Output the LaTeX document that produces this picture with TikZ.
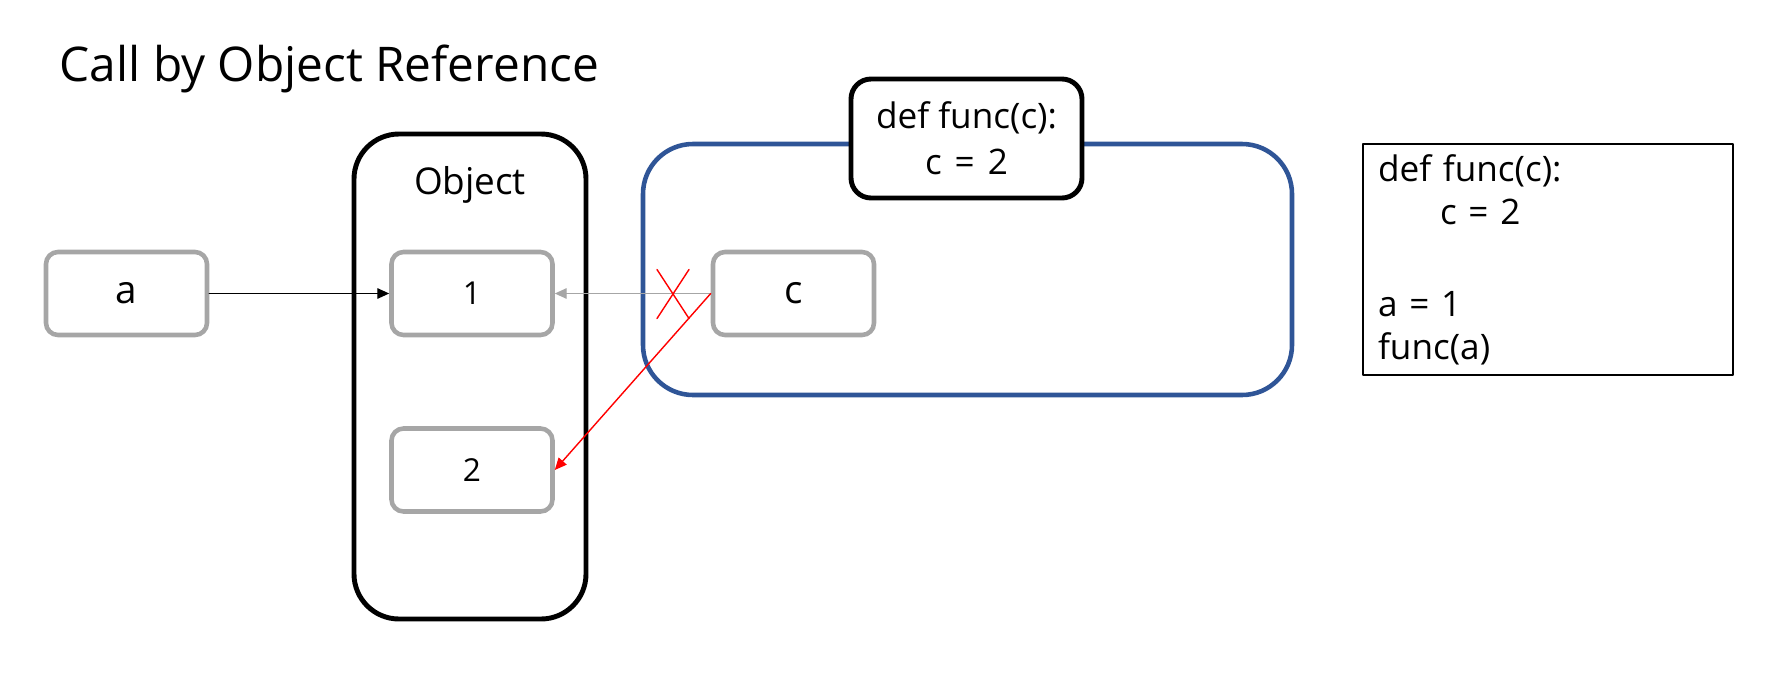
\documentclass[tikz,border=0pt]{standalone}
\usepackage{fontspec}
\setmainfont{Open Sans}
\usepackage{tikz}
\usetikzlibrary{arrows.meta}
\definecolor{sqsqsq}{rgb}{0.6509803921568628,0.6509803921568628,0.6509803921568628}
\definecolor{qqzzcc}{rgb}{0.1843137254901961,0.3333333333333333,0.592156862745098}
\definecolor{ffqqqq}{rgb}{1.0,0.0,0.0}

\begin{document}
\begin{tikzpicture}[line cap=round,line join=round,>={Triangle[length=3.4pt,width=3pt]},x=1.0cm,y=1.0cm,
  cell/.style={draw=sqsqsq,line width=1.3pt,rounded corners=0.12cm,minimum width=1.61cm,minimum height=0.83cm,inner sep=0pt,font=\fontsize{11}{13}\selectfont},
  frame/.style={draw,line width=1.4pt,inner sep=0pt}]
\useasboundingbox (0,0) rectangle (17.87,6.92);
\node[anchor=west,inner sep=0pt,font=\fontsize{13.6}{16}\selectfont] (title) at (0.59,6.23) {Call by Object Reference};
\node[frame,rounded corners=0.45cm,minimum width=2.32cm,minimum height=4.85cm] (obj) at (4.70,3.155) {};
\node[font=\fontsize{10.5}{12}\selectfont] (objlabel) at (4.70,5.07) {Object};
\node[frame,draw=qqzzcc,line width=1.3pt,rounded corners=0.5cm,minimum width=6.49cm,minimum height=2.51cm] (func) at (9.675,4.225) {};
\node[frame,fill=white,rounded corners=0.2cm,minimum width=2.31cm,minimum height=1.19cm,align=center,font=\fontsize{10}{13}\selectfont] (defbox) at (9.665,5.535) {def func(c):\\c\hspace{0.13cm}=\hspace{0.13cm}2};
\node[cell] (a) at (1.265,3.985) {a};
\node[cell,font=\fontsize{9}{11}\selectfont] (one) at (4.72,3.985) {1};
\node[cell,font=\fontsize{9}{11}\selectfont] (two) at (4.72,2.22) {2};
\node[cell] (c) at (7.935,3.985) {c};
\node[draw,line width=0.65pt,inner xsep=0.15cm,inner ysep=0pt,text width=3.4cm,minimum height=2.31cm,align=left,font=\fontsize{10}{12.2}\selectfont] (code) at (15.48,4.325) {def func(c):\\\hspace{0.62cm}c = 2\\[14pt]a = 1\\func(a)};
\draw[->,line width=0.4pt] (a) -- (one);
\draw[->,draw=sqsqsq,line width=0.4pt] (c) -- (one);
\draw[->,draw=ffqqqq,line width=0.4pt] (c.west) -- (two.east);
\coordinate (cross) at (6.73,3.98);
\draw[ffqqqq,line width=0.4pt] (cross) ++(-0.16,0.245) -- ++(0.32,-0.49);
\draw[ffqqqq,line width=0.4pt] (cross) ++(0.16,0.245) -- ++(-0.32,-0.49);
\end{tikzpicture}
\end{document}
